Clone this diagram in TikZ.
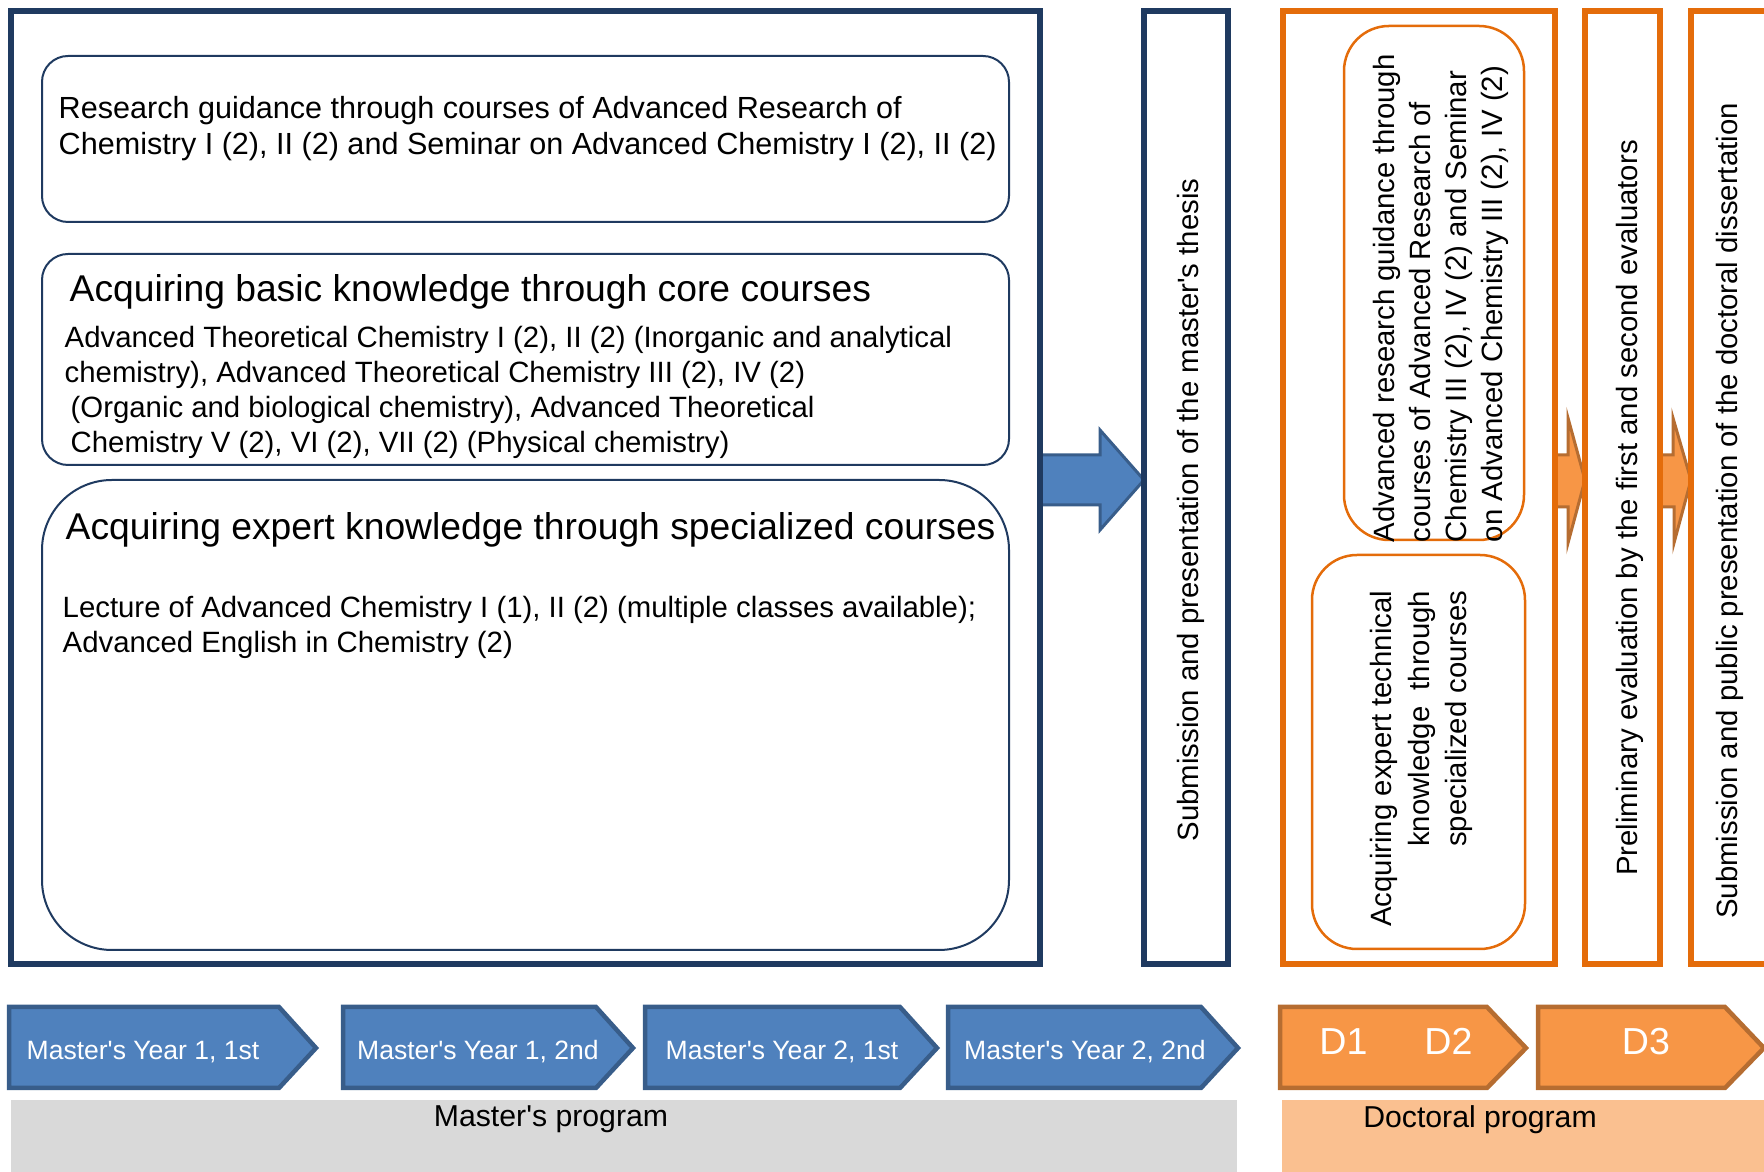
\documentclass[tikz,border=0pt]{standalone}
\usepackage{fontspec}
\setmainfont{Liberation Sans}
\usepackage{xcolor}
\usetikzlibrary{fit,backgrounds}

\definecolor{navy}{HTML}{1F3A60}
\definecolor{chevblue}{HTML}{4F81BD}
\definecolor{chevblueline}{HTML}{385D8A}
\definecolor{dorange}{HTML}{E46C0A}
\definecolor{chevorange}{HTML}{F79646}
\definecolor{chevorangeline}{HTML}{B66D31}
\definecolor{bandgrey}{HTML}{D9D9D9}
\definecolor{bandorange}{HTML}{FAC090}

\begin{document}
\begin{tikzpicture}[x=0.1mm, y=-0.1mm,
  navybox/.style={draw=navy, line width=0.55mm, inner sep=0pt, outer sep=0pt},
  orangebox/.style={draw=dorange, line width=0.55mm, inner sep=0pt, outer sep=0pt},
  roundbox/.style={draw=navy, line width=0.2mm, rounded corners=2.6mm, inner sep=0pt},
  oroundbox/.style={draw=dorange, line width=0.25mm, rounded corners=4.5mm, inner sep=0pt},
  txt/.style={inner sep=0pt, align=left, anchor=base west, font=\fontsize{8.35}{9.96}\selectfont},
  headtxt/.style={inner sep=0pt, anchor=base west, font=\fontsize{10.6}{13}\selectfont},
  vtxt/.style={inner sep=0pt, rotate=90, font=\fontsize{8.35}{10.24}\selectfont},
  bluechev/.style={fill=chevblue, draw=chevblueline, line width=0.45mm},
  orangechev/.style={fill=chevorange, draw=chevorangeline, line width=0.45mm},
  chevtxt/.style={inner sep=0pt, anchor=base, text=white, font=\fontsize{7.55}{9}\selectfont},
  bandtxt/.style={inner sep=0pt, anchor=base, font=\fontsize{8.6}{10}\selectfont},
  bluearrow/.style={fill=chevblue, draw=chevblueline, line width=0.3mm},
  orangearrow/.style={fill=chevorange, draw=chevorangeline, line width=0.3mm}]

\useasboundingbox (0,0) rectangle (1764,1172);

% master's program (text nodes sit on the baseline of their last line)
\node[navybox, fit={(11,11) (1040,964)}] (master) {};
\node[roundbox, fit={(42,56) (1009,222)}] (guide) {};
\node[roundbox, fit={(42,254) (1009,465)}] (core) {};
\node[roundbox, rounded corners=7mm, fit={(42,480) (1009,950)}] (expert) {};

\node[txt, font=\fontsize{8.7}{10.24}\selectfont] (guidetxt) at (58,155)
  {Research guidance through courses of Advanced Research of\\
   Chemistry I (2), II (2) and Seminar on Advanced Chemistry I (2), II (2)};
\node[headtxt] (coretitle) at (69,302) {Acquiring basic knowledge through core courses};
\node[txt] (coretxt) at (64,453)
  {Advanced Theoretical Chemistry I (2), II (2) (Inorganic and analytical\\
   chemistry), Advanced Theoretical Chemistry III (2), IV (2)\\
   \hspace*{0.6mm}(Organic and biological chemistry), Advanced Theoretical\\
   \hspace*{0.6mm}Chemistry V (2), VI (2), VII (2) (Physical chemistry)};
\node[headtxt] (experttitle) at (65,540) {Acquiring expert knowledge through specialized courses};
\node[txt, font=\fontsize{8.35}{10.24}\selectfont] (experttxt) at (62,653)
  {Lecture of Advanced Chemistry I (1), II (2) (multiple classes available);\\
   Advanced English in Chemistry (2)};

\node[navybox, line width=0.6mm, fit={(1144,11) (1228,964)}] (thesis) {};
\node[vtxt] (thesistxt) at (1191,510) {Submission and presentation of the master\textquotesingle s thesis};

% doctoral program
\node[orangebox, fit={(1283,11) (1555,964)}] (phd) {};
\node[oroundbox, fit={(1344,26) (1524,540)}] (dguide) {};
\node[oroundbox, fit={(1312,555) (1525,949)}] (dexpert) {};
\node[vtxt, align=left, anchor=north west] (dguidetxt) at (1373,543)
  {Advanced research guidance through\\
   courses of Advanced Research of\\
   Chemistry III (2), IV (2) and Seminar\\
   on Advanced Chemistry III (2), IV (2)};
\node[vtxt, align=right, anchor=north east, font=\fontsize{8.35}{10.6}\selectfont] (dexperttxt) at (1370,590)
  {Acquiring expert technical\\
   knowledge\ \ through\\
   specialized courses};

\node[orangebox, fit={(1585,11) (1660,964)}] (prelim) {};
\node[vtxt] (prelimtxt) at (1630,508) {Preliminary evaluation by the first and second evaluators};
\node[orangebox, fit={(1691,11) (1820,964)}] (defense) {};
\node[vtxt] (defensetxt) at (1730,511) {Submission and public presentation of the doctoral dissertation};

% block arrows between the stages
\begin{scope}[on background layer]
  \draw[bluearrow] (master.east |- 0,455) -- ++(60,0) -- ++(0,-25) -- (thesis.west |- 0,480)
    -- ++(-44,50) -- ++(0,-25) -- (master.east |- 0,505) -- cycle;
  \foreach \a/\b in {phd/prelim, prelim/defense}
    \draw[orangearrow] (\a.east |- 0,455) -- ++(13,0) -- ++(0,-37) -- (\b.west |- 0,480)
      -- ++(-17,63) -- ++(0,-36) -- (\a.east |- 0,507) -- cycle;
\end{scope}

% time line
\foreach \xa/\xb/\xt/\t [count=\i] in {9/279/143/{Master\textquotesingle s Year 1, 1st}, 343/596/478/{Master\textquotesingle s Year 1, 2nd},
    645/900/782/{Master\textquotesingle s Year 2, 1st}, 948/1201/1085/{Master\textquotesingle s Year 2, 2nd}}
{
  \draw[bluechev] (\xa,1007) -- (\xb,1007) -- (\xb+37,1048) -- (\xb,1088) -- (\xa,1088) -- cycle;
  \node[chevtxt] (mst\i) at (\xt,1060) {\t};
}
\foreach \xa/\xb/\xt/\t [count=\i] in {1280/1487/1396/{D1\hspace{5.7mm}D2}, 1538/1725/1646/{D3}}
{
  \draw[orangechev] (\xa,1007) -- (\xb,1007) -- (\xb+39,1048) -- (\xb,1088) -- (\xa,1088) -- cycle;
  \node[chevtxt, font=\fontsize{10.7}{12}\selectfont] (doc\i) at (\xt,1055) {\t};
}

\node[fill=bandgrey, inner sep=0pt, fit={(11,1100) (1237,1172)}] (mband) {};
\node[bandtxt] (mlabel) at (551,1127) {Master\textquotesingle s program};
\node[fill=bandorange, inner sep=0pt, fit={(1282,1100) (1764,1172)}] (dband) {};
\node[bandtxt] (dlabel) at (1480,1128) {Doctoral program};

\end{tikzpicture}
\end{document}
